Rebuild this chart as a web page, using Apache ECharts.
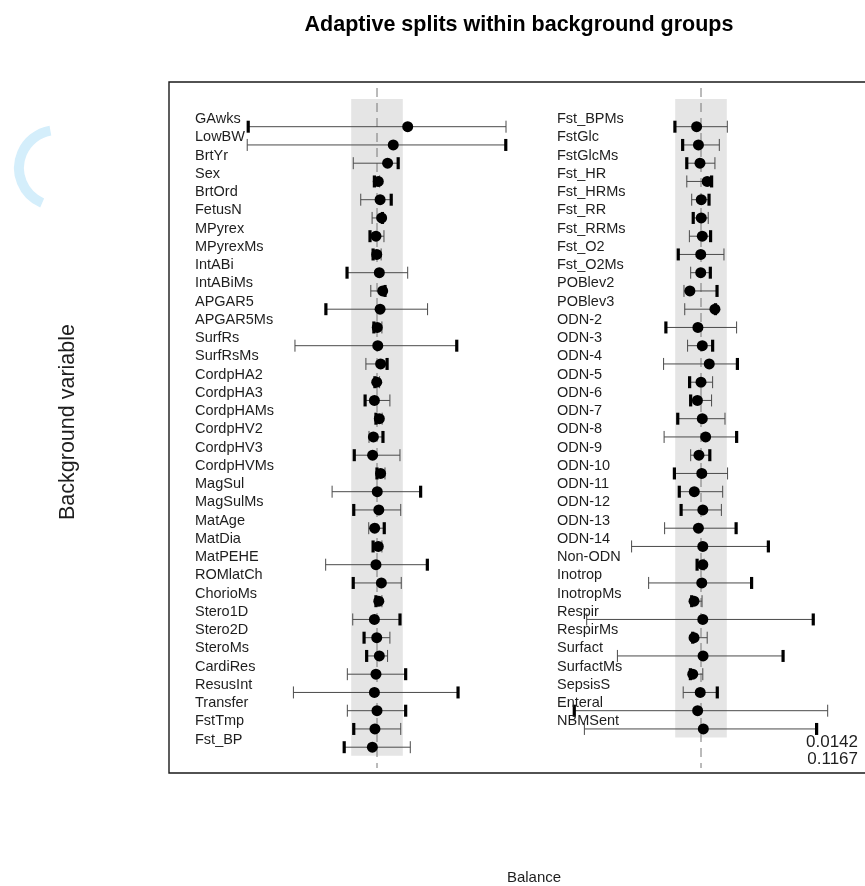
<!DOCTYPE html>
<html><head><meta charset="utf-8">
<script src="https://cdn.jsdelivr.net/npm/echarts/dist/echarts.min.js"></script>
<style>html,body{margin:0;padding:0;background:#fff}#c{width:865px;height:886px}</style>
</head><body><div id="c"></div>
<script>
// ---------------- data ----------------
const leftVars = ['GAwks','LowBW','BrtYr','Sex','BrtOrd','FetusN','MPyrex','MPyrexMs','IntABi','IntABiMs','APGAR5','APGAR5Ms','SurfRs','SurfRsMs','CordpHA2','CordpHA3','CordpHAMs','CordpHV2','CordpHV3','CordpHVMs','MagSul','MagSulMs','MatAge','MatDia','MatPEHE','ROMlatCh','ChorioMs','Stero1D','Stero2D','SteroMs','CardiRes','ResusInt','Transfer','FstTmp','Fst_BP'];
const leftEst = [0.119,0.063,0.041,0.005,0.012,0.018,-0.004,-0.001,0.009,0.022,0.012,0.001,0.003,0.014,-0.001,-0.010,0.009,-0.014,-0.017,0.014,0.001,0.007,-0.009,0.005,-0.004,0.017,0.007,-0.010,-0.001,0.009,-0.004,-0.010,0.000,-0.008,-0.018];
const leftLo = [-0.503,-0.503,-0.092,-0.014,-0.063,-0.019,-0.031,-0.019,-0.120,-0.024,-0.202,-0.016,-0.318,-0.043,-0.012,-0.050,-0.008,-0.031,-0.092,-0.004,-0.174,-0.094,-0.032,-0.019,-0.199,-0.096,-0.008,-0.094,-0.054,-0.044,-0.115,-0.324,-0.115,-0.094,-0.131];
const leftHi = [0.500,0.503,0.086,0.010,0.059,0.025,0.027,0.016,0.119,0.035,0.196,0.019,0.313,0.043,0.010,0.050,0.020,0.027,0.089,0.031,0.173,0.092,0.032,0.019,0.199,0.094,0.019,0.093,0.050,0.041,0.115,0.318,0.115,0.092,0.129];
const leftBoldEnd = ['L','R','R','L','R','R','L','L','L','R','L','L','R','R','L','L','L','R','L','L','R','L','R','L','R','L','L','R','L','L','R','R','R','L','L'];

const rightVars = ['Fst_BPMs','FstGlc','FstGlcMs','Fst_HR','Fst_HRMs','Fst_RR','Fst_RRMs','Fst_O2','Fst_O2Ms','POBlev2','POBlev3','ODN-2','ODN-3','ODN-4','ODN-5','ODN-6','ODN-7','ODN-8','ODN-9','ODN-10','ODN-11','ODN-12','ODN-13','ODN-14','Non-ODN','Inotrop','InotropMs','Respir','RespirMs','Surfact','SurfactMs','SepsisS','Enteral','NBMSent'];
const rightEst = [-0.017,-0.010,-0.004,0.024,0.001,0.001,0.005,-0.001,-0.001,-0.043,0.054,-0.012,0.005,0.032,0.000,-0.014,0.005,0.018,-0.008,0.003,-0.026,0.007,-0.010,0.007,0.007,0.003,-0.027,0.007,-0.027,0.008,-0.032,-0.003,-0.013,0.009];
const rightLo = [-0.105,-0.075,-0.059,-0.055,-0.036,-0.034,-0.045,-0.092,-0.040,-0.066,-0.063,-0.140,-0.052,-0.145,-0.048,-0.044,-0.094,-0.143,-0.040,-0.107,-0.088,-0.081,-0.141,-0.269,-0.019,-0.203,-0.040,-0.443,-0.036,-0.324,-0.045,-0.069,-0.495,-0.452];
const rightHi = [0.102,0.071,0.054,0.045,0.035,0.028,0.041,0.089,0.040,0.066,0.060,0.138,0.049,0.145,0.045,0.041,0.093,0.142,0.038,0.103,0.084,0.079,0.140,0.265,0.012,0.200,0.004,0.439,0.024,0.322,0.007,0.067,0.491,0.452];
const rightBoldEnd = ['L','L','L','R','R','L','R','L','R','R','R','L','R','R','L','L','L','R','R','L','L','L','R','R','L','R','L','R','L','R','L','R','L','R'];

const bandHalfWidth = 0.1;           // balance threshold shown as grey band
const cornerNotes = ['0.0142','0.1167'];
const titleText = 'Adaptive splits within background groups';
const xTitle = 'Balance';
const yTitle = 'Background variable';

// ---------------- layout ----------------
const BOX = {x:169, y:82, w:695, h:691};
const PX_PER_UNIT = 258;
const ROW0 = 126.7, ROW_H = 18.25;
const CENTER_PX = [377, 701];
const LABEL_X = [195, 557];
const FONT = '"Liberation Sans", Arial, Helvetica, sans-serif';

const panels = [
  {vars:leftVars, est:leftEst, lo:leftLo, hi:leftHi, bold:leftBoldEnd},
  {vars:rightVars, est:rightEst, lo:rightLo, hi:rightHi, bold:rightBoldEnd}
];

const grids = [], xAxes = [], yAxes = [], series = [];
panels.forEach((p, k) => {
  grids.push({left:BOX.x, top:BOX.y, width:BOX.w, height:BOX.h, show:false, containLabel:false});
  xAxes.push({type:'value', gridIndex:k,
    min:(BOX.x - CENTER_PX[k]) / PX_PER_UNIT, max:(BOX.x + BOX.w - CENTER_PX[k]) / PX_PER_UNIT,
    show:false});
  yAxes.push({type:'value', gridIndex:k, inverse:true,
    min:(BOX.y - ROW0) / ROW_H, max:(BOX.y + BOX.h - ROW0) / ROW_H, show:false});
  const n = p.vars.length;
  // grey band
  series.push({type:'custom', xAxisIndex:k, yAxisIndex:k, z:1, silent:true,
    data:[[-bandHalfWidth, bandHalfWidth, n - 1]],
    renderItem:(params, api) => {
      const a = api.coord([api.value(0), 0]);
      const b = api.coord([api.value(1), api.value(2)]);
      return {type:'rect', shape:{x:a[0], y:99, width:b[0]-a[0], height:b[1] + 8.5 - 99},
        style:{fill:'#e5e5e5'}};
    }});
  // dashed zero line
  series.push({type:'custom', xAxisIndex:k, yAxisIndex:k, z:2, silent:true,
    data:[[0, 0]],
    renderItem:(params, api) => {
      const a = api.coord([api.value(0), 0]);
      return {type:'line', shape:{x1:a[0], y1:88, x2:a[0], y2:768},
        style:{stroke:'#777', lineWidth:1, lineDash:[9,6]}};
    }});
  // error bars
  series.push({type:'custom', xAxisIndex:k, yAxisIndex:k, z:3, silent:true,
    encode:{x:[0,1], y:2},
    data:p.lo.map((v, i) => [v, p.hi[i], i]),
    renderItem:(params, api) => {
      const i = params.dataIndex;
      const a = api.coord([api.value(0), api.value(2)]);
      const b = api.coord([api.value(1), api.value(2)]);
      const boldL = p.bold[i] === 'L', boldR = p.bold[i] === 'R';
      const cap = (x, bold) => ({type:'line', shape:{x1:x, y1:a[1]-6, x2:x, y2:a[1]+6},
        style:{stroke: bold ? '#000' : '#4a4a4a', lineWidth: bold ? 3.2 : 1}});
      return {type:'group', children:[
        {type:'line', shape:{x1:a[0], y1:a[1], x2:b[0], y2:b[1]}, style:{stroke:'#4a4a4a', lineWidth:1}},
        cap(a[0] + (boldL ? 1 : 0), boldL),
        cap(b[0] - (boldR ? 1 : 0), boldR)
      ]};
    }});
  // point estimates
  series.push({type:'scatter', xAxisIndex:k, yAxisIndex:k, z:4, silent:true,
    symbol:'circle', symbolSize:11, itemStyle:{color:'#000', opacity:1},
    data:p.est.map((v, i) => [v, i])});
  // variable labels
  series.push({type:'custom', xAxisIndex:k, yAxisIndex:k, z:5, silent:true,
    data:p.vars.map((v, i) => [0, i]),
    renderItem:(params, api) => {
      const c = api.coord([0, api.value(1)]);
      return {type:'text', x:LABEL_X[k], y:c[1] - 7.6,
        style:{text:p.vars[params.dataIndex], font:'14.5px ' + FONT, fill:'#1e1e1e',
          textAlign:'left', textVerticalAlign:'middle'}};
    }});
});

const chart = echarts.init(document.getElementById('c'), null, {renderer:'canvas'});
chart.setOption({
  animation:false,
  backgroundColor:'#fff',
  grid:grids, xAxis:xAxes, yAxis:yAxes, series:series,
  graphic:[
    {type:'polyline', shape:{points:[[BOX.x + BOX.w + 6, BOX.y], [BOX.x, BOX.y], [BOX.x, BOX.y + BOX.h], [BOX.x + BOX.w + 6, BOX.y + BOX.h]]},
      style:{stroke:'#1a1a1a', lineWidth:1.4, fill:null}},
    {type:'text', x:519, y:25, style:{text:titleText, font:'bold 21.5px ' + FONT, fill:'#000', textAlign:'center', textVerticalAlign:'middle'}},
    {type:'text', x:534, y:878, style:{text:xTitle, font:'15px ' + FONT, fill:'#1e1e1e', textAlign:'center', textVerticalAlign:'middle'}},
    {type:'text', x:68, y:422, rotation:Math.PI/2, style:{text:yTitle, font:'21.5px ' + FONT, fill:'#1e1e1e', textAlign:'center', textVerticalAlign:'middle'}},
    {type:'text', x:858, y:742, style:{text:cornerNotes[0], font:'17px ' + FONT, fill:'#1e1e1e', textAlign:'right', textVerticalAlign:'middle'}},
    {type:'text', x:858, y:759, style:{text:cornerNotes[1], font:'17px ' + FONT, fill:'#1e1e1e', textAlign:'right', textVerticalAlign:'middle'}},
    {type:'arc', shape:{cx:57, cy:168, r:38, startAngle:113*Math.PI/180, endAngle:260*Math.PI/180, clockwise:true},
      style:{stroke:'#d4eefb', lineWidth:10, fill:null}}
  ]
});
</script></body></html>
